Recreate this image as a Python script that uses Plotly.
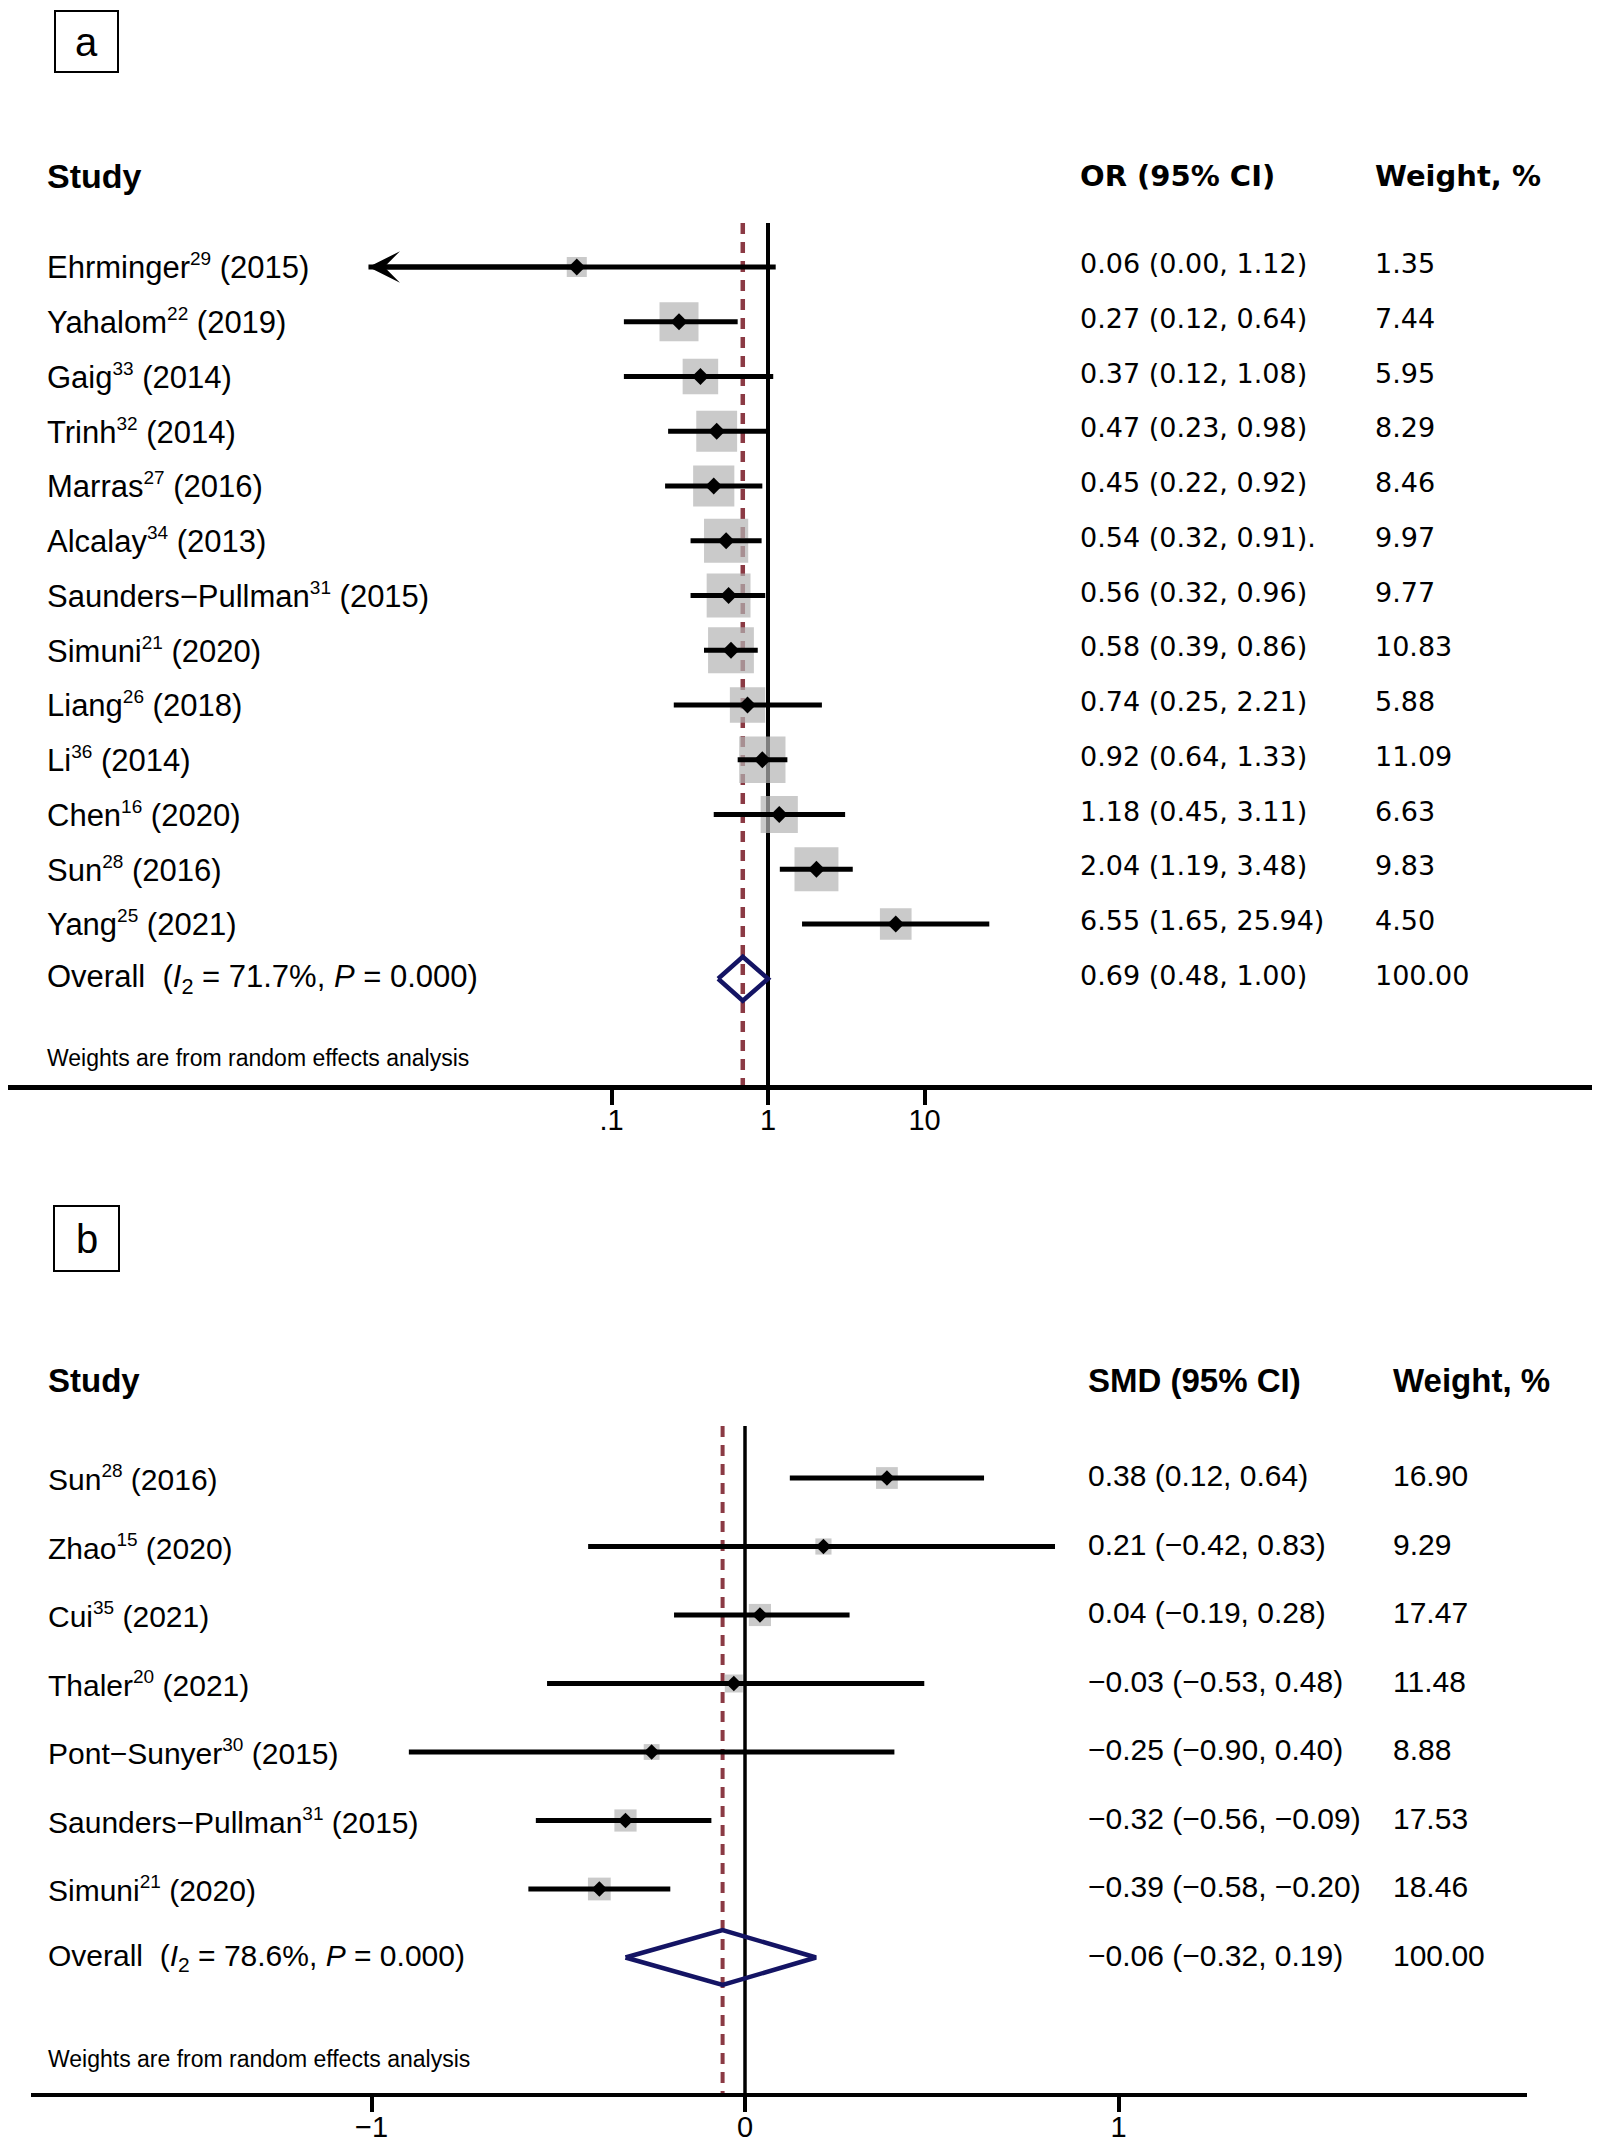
import numpy as np
import plotly.graph_objects as go

# ---------------- data: panel a (OR) ----------------
studies_a = ["Ehrminger", "Yahalom", "Gaig", "Trinh", "Marras", "Alcalay", "Saunders\u2212Pullman",
             "Simuni", "Liang", "Li", "Chen", "Sun", "Yang"]
refs_a = ["29", "22", "33", "32", "27", "34", "31", "21", "26", "36", "16", "28", "25"]
years_a = [2015, 2019, 2014, 2014, 2016, 2013, 2015, 2020, 2018, 2014, 2020, 2016, 2021]
or_a = [0.06, 0.27, 0.37, 0.47, 0.45, 0.54, 0.56, 0.58, 0.74, 0.92, 1.18, 2.04, 6.55]
lo_a = [0.00, 0.12, 0.12, 0.23, 0.22, 0.32, 0.32, 0.39, 0.25, 0.64, 0.45, 1.19, 1.65]
hi_a = [1.12, 0.64, 1.08, 0.98, 0.92, 0.91, 0.96, 0.86, 2.21, 1.33, 3.11, 3.48, 25.94]
w_a = [1.35, 7.44, 5.95, 8.29, 8.46, 9.97, 9.77, 10.83, 5.88, 11.09, 6.63, 9.83, 4.50]
suffix_a = ["", "", "", "", "", ".", "", "", "", "", "", "", ""]
overall_a = [0.69, 0.48, 1.00]
total_w_a = 100.00
i2_a, p_a = "71.7", "0.000"
ticks_a = [0.1, 1, 10]
ticktext_a = [".1", "1", "10"]
clip_lo_a = 0.0028  # lower limit of plotted CI range (arrow beyond)

# ---------------- data: panel b (SMD) ----------------
studies_b = ["Sun", "Zhao", "Cui", "Thaler", "Pont\u2212Sunyer", "Saunders\u2212Pullman", "Simuni"]
refs_b = ["28", "15", "35", "20", "30", "31", "21"]
years_b = [2016, 2020, 2021, 2021, 2015, 2015, 2020]
smd_b = [0.38, 0.21, 0.04, -0.03, -0.25, -0.32, -0.39]
lo_b = [0.12, -0.42, -0.19, -0.53, -0.90, -0.56, -0.58]
hi_b = [0.64, 0.83, 0.28, 0.48, 0.40, -0.09, -0.20]
w_b = [16.90, 9.29, 17.47, 11.48, 8.88, 17.53, 18.46]
overall_b = [-0.06, -0.32, 0.19]
total_w_b = 100.00
i2_b, p_b = "78.6", "0.000"
ticks_b = [-1, 0, 1]

# ---------------- layout constants (pixels in the 1600x2142 page) ----------------
PAGE_W, PAGE_H = 1600, 2142
OFF = 8  # default body margin of the html page
W, H = PAGE_W - 2 * OFF, PAGE_H - OFF
TXT_DX = 3  # annotation box inset
GREY = "#b4b4b4"
MAROON = "#8b3a44"
NAVY = "#141464"
ARIAL = "Liberation Sans"
WIDE = "DejaVu Sans"

# panel a geometry
A_XPX = (OFF, PAGE_W - OFF); A_ONE = 768; A_DEC = 156.5
A_ROW0 = 267; A_STEP = 54.75; A_TOP = 223; A_BOT = 1085
# panel b geometry
B_XPX = (31, 1527); B_ZERO = 745; B_UNIT = 373.5
B_ROW0 = 1478; B_STEP = 68.5; B_TOP = 1426; B_BOT = 2093


def py(px):
    return 1 - (px - OFF) / H


def pxx(px):
    return (px - OFF) / W


a_xrange = [(A_XPX[0] - A_ONE) / A_DEC, (A_XPX[1] - A_ONE) / A_DEC]
a_yrange = [(A_BOT - A_ROW0) / A_STEP, (A_TOP - A_ROW0) / A_STEP]
b_xrange = [(B_XPX[0] - B_ZERO) / B_UNIT, (B_XPX[1] - B_ZERO) / B_UNIT]
b_yrange = [(B_BOT - B_ROW0) / B_STEP, (B_TOP - B_ROW0) / B_STEP]


def arow(px):
    return (px - A_ROW0) / A_STEP


def brow(px):
    return (px - B_ROW0) / B_STEP


fig = go.Figure()

# ---------- panel a ----------
na = len(studies_a)
rows_a = list(range(na))
r_over_a = na

fig.add_trace(go.Scatter(x=[1, 1], y=[a_yrange[1], a_yrange[0]], mode="lines",
                         line=dict(color="black", width=4), xaxis="x", yaxis="y"))
fig.add_trace(go.Scatter(x=[overall_a[0]] * 2, y=[a_yrange[1], a_yrange[0]], mode="lines",
                         line=dict(color=MAROON, width=4.5, dash="11px,8px"), xaxis="x", yaxis="y"))
fig.add_trace(go.Scatter(x=or_a, y=rows_a, mode="markers",
                         marker=dict(symbol="square", color=GREY,
                                     size=[6 + 12.1 * np.sqrt(w) for w in w_a], line=dict(width=0)),
                         xaxis="x", yaxis="y"))
cx, cy = [], []
for i in range(na):
    lo = max(lo_a[i], clip_lo_a)
    cx += [lo, hi_a[i], None]
    cy += [i, i, None]
fig.add_trace(go.Scatter(x=cx, y=cy, mode="lines", line=dict(color="black", width=5),
                         xaxis="x", yaxis="y"))
fig.add_trace(go.Scatter(x=or_a, y=rows_a, mode="markers",
                         marker=dict(symbol="diamond", color="black", size=13, line=dict(width=0)),
                         xaxis="x", yaxis="y"))
h = 0.4
fig.add_trace(go.Scatter(x=[overall_a[1], overall_a[0], overall_a[2], overall_a[0], overall_a[1]],
                         y=[r_over_a, r_over_a - h, r_over_a, r_over_a + h, r_over_a],
                         mode="lines", line=dict(color=NAVY, width=4.5), xaxis="x", yaxis="y"))

# ---------- panel b ----------
nb = len(studies_b)
rows_b = list(range(nb))
r_over_b = nb
fig.add_trace(go.Scatter(x=[0, 0], y=[b_yrange[1], b_yrange[0]], mode="lines",
                         line=dict(color="black", width=3.5), xaxis="x2", yaxis="y2"))
fig.add_trace(go.Scatter(x=[overall_b[0]] * 2, y=[b_yrange[1], b_yrange[0]], mode="lines",
                         line=dict(color=MAROON, width=4, dash="11px,8px"), xaxis="x2", yaxis="y2"))
fig.add_trace(go.Scatter(x=smd_b, y=rows_b, mode="markers",
                         marker=dict(symbol="square", color=GREY,
                                     size=[5.3 * np.sqrt(w) for w in w_b], line=dict(width=0)),
                         xaxis="x2", yaxis="y2"))
cx, cy = [], []
for i in range(nb):
    cx += [lo_b[i], hi_b[i], None]
    cy += [i, i, None]
fig.add_trace(go.Scatter(x=cx, y=cy, mode="lines", line=dict(color="black", width=5),
                         xaxis="x2", yaxis="y2"))
fig.add_trace(go.Scatter(x=smd_b, y=rows_b, mode="markers",
                         marker=dict(symbol="diamond", color="black", size=12, line=dict(width=0)),
                         xaxis="x2", yaxis="y2"))
fig.add_trace(go.Scatter(x=[overall_b[1], overall_b[0], overall_b[2], overall_b[0], overall_b[1]],
                         y=[r_over_b, r_over_b - h, r_over_b, r_over_b + h, r_over_b],
                         mode="lines", line=dict(color=NAVY, width=4.5), xaxis="x2", yaxis="y2"))

# ---------- annotations ----------
ann = []


def txt(x_px, y, text, yref, size, family=ARIAL, anchor="left"):
    ann.append(dict(x=pxx(x_px - TXT_DX), xref="paper", y=y, yref=yref, text=text, showarrow=False,
                    xanchor=anchor, yanchor="middle",
                    font=dict(family=family, size=size, color="black")))


def sup(s):
    return f"<sup><span style='font-size:19px'>{s}</span></sup>"


# panel a
txt(48, py(176), "<b>Study</b>", "paper", 34)
txt(1081, py(176), "<b>OR (95% CI)</b>", "paper", 29, WIDE)
txt(1376, py(176), "<b>Weight, %</b>", "paper", 29, WIDE)
for i in range(na):
    txt(48, i, f"{studies_a[i]}{sup(refs_a[i])} ({years_a[i]})", "y", 31)
    txt(1081, i - 0.06, f"{or_a[i]:.2f} ({lo_a[i]:.2f}, {hi_a[i]:.2f}){suffix_a[i]}", "y", 27, WIDE)
    txt(1376, i - 0.06, f"{w_a[i]:.2f}", "y", 27, WIDE)
txt(48, r_over_a, f"Overall  (<i>I</i><sub>2</sub> = {i2_a}%, <i>P</i> = {p_a})", "y", 31)
txt(1081, r_over_a - 0.06, f"{overall_a[0]:.2f} ({overall_a[1]:.2f}, {overall_a[2]:.2f})", "y", 27, WIDE)
txt(1376, r_over_a - 0.06, f"{total_w_a:.2f}", "y", 27, WIDE)
txt(48, arow(1058), "Weights are from random effects analysis", "y", 23)

# arrow for clipped CI (log axis -> log units)
ann.append(dict(x=np.log10(clip_lo_a), y=0, xref="x", yref="y",
                ax=np.log10(or_a[0]), ay=0, axref="x", ayref="y",
                showarrow=True, arrowhead=3, arrowsize=1.05, arrowwidth=5, arrowcolor="black",
                text=""))


def fmt(v):
    return f"{v:.2f}".replace("-", "\u2212")


# panel b
txt(49, py(1380), "<b>Study</b>", "paper", 33)
txt(1089, py(1380), "<b>SMD (95% CI)</b>", "paper", 33)
txt(1394, py(1380), "<b>Weight, %</b>", "paper", 33)
for i in range(nb):
    txt(49, i, f"{studies_b[i]}{sup(refs_b[i])} ({years_b[i]})", "y2", 30)
    txt(1089, i - 0.03, f"{fmt(smd_b[i])} ({fmt(lo_b[i])}, {fmt(hi_b[i])})", "y2", 30)
    txt(1394, i - 0.03, f"{w_b[i]:.2f}", "y2", 30)
txt(49, r_over_b, f"Overall  (<i>I</i><sub>2</sub> = {i2_b}%, <i>P</i> = {p_b})", "y2", 30)
txt(1089, r_over_b - 0.03, f"{fmt(overall_b[0])} ({fmt(overall_b[1])}, {fmt(overall_b[2])})", "y2", 30)
txt(1394, r_over_b - 0.03, f"{total_w_b:.2f}", "y2", 30)
txt(49, brow(2059), "Weights are from random effects analysis", "y2", 23)

# panel letters
boxes = {"a": (55, 11, 118, 72), "b": (54, 1206, 119, 1271)}
shapes = []
for letter, (x0, y0, x1, y1) in boxes.items():
    ann.append(dict(x=pxx((x0 + x1) / 2), y=py((y0 + y1) / 2), xref="paper", yref="paper",
                    text=letter, showarrow=False, xanchor="center", yanchor="middle",
                    font=dict(family=ARIAL, size=40, color="black")))
    shapes.append(dict(type="rect", xref="paper", yref="paper", x0=pxx(x0), x1=pxx(x1),
                       y0=py(y1), y1=py(y0), line=dict(color="black", width=2)))

axis_common = dict(showgrid=False, zeroline=False, showline=True, linecolor="black",
                   ticks="outside", ticklen=15, tickwidth=4, tickcolor="black",
                   ticklabelstandoff=-10, automargin=False,
                   tickfont=dict(family=ARIAL, size=29, color="black"))
hidden = dict(showgrid=False, zeroline=False, showline=False, showticklabels=False, ticks="",
              automargin=False)

fig.update_layout(
    width=W, height=H, autosize=False,
    margin=dict(l=0, r=0, t=0, b=0, autoexpand=False),
    paper_bgcolor="white", plot_bgcolor="white",
    showlegend=False, hovermode=False,
    xaxis=dict(type="log", range=a_xrange, domain=[pxx(A_XPX[0]), pxx(A_XPX[1])], anchor="y",
               linewidth=5, tickvals=ticks_a, ticktext=ticktext_a, **axis_common),
    yaxis=dict(range=a_yrange, domain=[py(A_BOT), py(A_TOP)], anchor="x", **hidden),
    xaxis2=dict(range=b_xrange, domain=[pxx(B_XPX[0]), pxx(B_XPX[1])], anchor="y2",
                linewidth=4, tickvals=ticks_b, **axis_common),
    yaxis2=dict(range=b_yrange, domain=[py(B_BOT), py(B_TOP)], anchor="x2", **hidden),
    annotations=ann, shapes=shapes,
)

fig.write_html("out.html")
